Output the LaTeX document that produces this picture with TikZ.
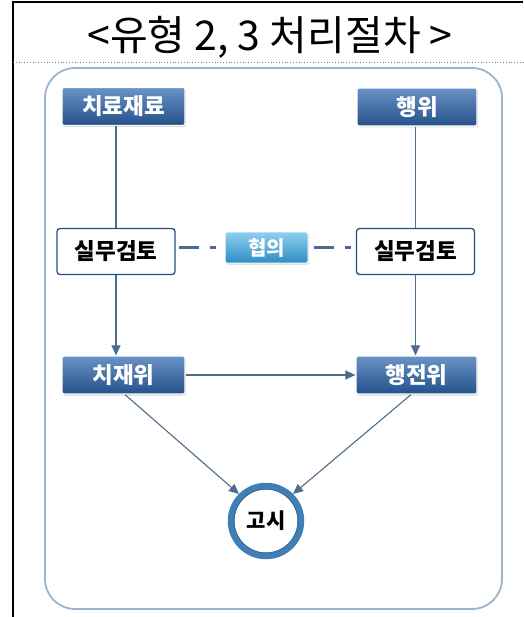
\documentclass[tikz,border=0pt]{standalone}
\usepackage{fontspec}
\setmainfont{Noto Sans CJK KR}
\usetikzlibrary{arrows.meta,shadows}
\definecolor{boxtop}{HTML}{6A93C6}
\definecolor{boxbot}{HTML}{24508A}
\definecolor{edge}{HTML}{4E6C8E}
\definecolor{frameblue}{HTML}{9DB3CA}
\definecolor{hyuptop}{HTML}{8FD0F0}
\definecolor{hyupbot}{HTML}{2E8CC4}
\definecolor{ring}{HTML}{3F7FB6}
\tikzset{
  darkbox/.style={rounded corners=2pt, draw=white, line width=1.2pt, top color=boxtop, bottom color=boxbot,
    text=white, font=\bfseries\fontsize{22.5}{24}\selectfont, minimum width=123pt, minimum height=38pt,
    drop shadow={shadow xshift=1pt, shadow yshift=-1.5pt, opacity=0.35}},
  whitebox/.style={rounded corners=3pt, draw=boxbot, line width=1.3pt, fill=white,
    text=black, font=\bfseries\fontsize{22.5}{24}\selectfont, minimum width=118pt, minimum height=46pt},
  hyupbox/.style={rounded corners=2pt, draw=white, line width=1pt, top color=hyuptop, bottom color=hyupbot,
    text=white, font=\bfseries\fontsize{20}{22}\selectfont, minimum width=83pt, minimum height=31pt,
    drop shadow={shadow xshift=1pt, shadow yshift=-1.5pt, opacity=0.35}},
  conn/.style={draw=edge, line width=1.1pt},
  arr/.style={conn, -{Triangle[length=10pt,width=9pt]}},
  dashconn/.style={draw=edge, line width=3pt, dash pattern=on 20pt off 11pt on 6pt off 20pt}
}
\begin{document}
\begin{tikzpicture}[x=1pt,y=-1pt]
\useasboundingbox (0,0) rectangle (523,617);
% outer frame
\draw[black, line width=1.3pt] (523,2) -- (13,2) -- (13,617);
\draw[gray, line width=0.8pt, dotted] (13,62) -- (523,62);
\node (title) at (270,37) {\fontsize{41}{44}\selectfont <유형 2, 3 처리절차 >};
% rounded panel
\draw[frameblue, line width=1.8pt, rounded corners=30pt] (45,68) rectangle (502,609);
% nodes
\node[darkbox] (chiryo) at (123.5,106.5) {치료재료};
\node[darkbox, minimum width=120pt] (haengwi) at (417,107) {행위};
\node[whitebox] (silL) at (116,251.5) {실무검토};
\node[whitebox] (silR) at (415.5,251.5) {실무검토};
\node[hyupbox] (hyup) at (266.5,247.5) {협의};
\node[darkbox] (chijae) at (123.5,375) {치재위};
\node[darkbox, minimum width=121pt] (haengjeon) at (416.5,375) {행전위};
\node[circle, draw=ring, line width=6.5pt, fill=white, minimum size=70pt, inner sep=0pt,
  font=\bfseries\fontsize{21}{23}\selectfont,
  drop shadow={shadow xshift=1pt, shadow yshift=-1.5pt, opacity=0.3}] (gosi) at (266,521) {고시};
\draw[ring!70!black, line width=0.6pt] (gosi.center) circle (31.8pt);
% connectors
\draw[conn] (chiryo.south -| silL.north) -- (silL.north);
\draw[conn] (haengwi.south -| silR.north) -- (silR.north);
\draw[arr] (silL.south) -- (chijae.north -| silL.south);
\draw[arr] (silR.south) -- (haengjeon.north -| silR.south);
\draw[arr] (chijae.east) -- (haengjeon.west);
\draw[dashconn] ([xshift=3pt]silL.east |- hyup.west) -- (hyup.west);
\draw[dashconn] ([xshift=5pt]hyup.east) -- (silR.west |- hyup.east);
\coordinate (cL) at (125,394);
\coordinate (cR) at (411,394);
\draw[arr] (chijae.south -| cL) -- (gosi.north west);
\draw[arr] (haengjeon.south -| cR) -- (gosi.north east);
\end{tikzpicture}
\end{document}
